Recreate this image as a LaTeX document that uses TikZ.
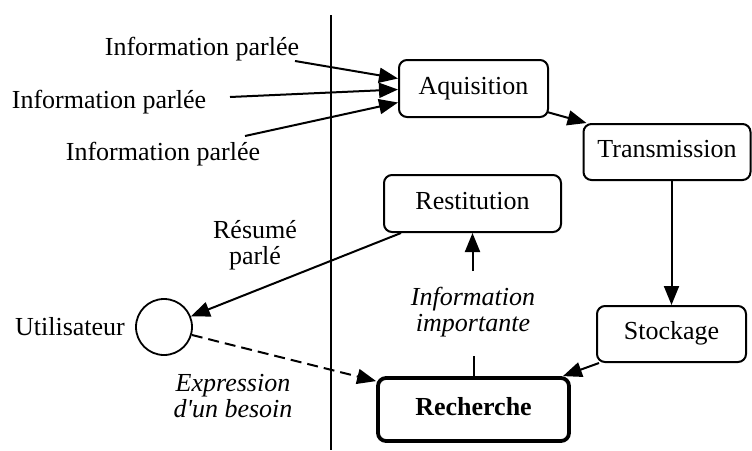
\documentclass[tikz,border=0pt]{standalone}
\usepackage{fontspec}
\setmainfont{Liberation Serif}[Ligatures=TeXOff]
\usetikzlibrary{arrows.meta,calc}
\begin{document}
\begin{tikzpicture}[x=1pt,y=-1pt,
  font=\fontsize{26}{26}\selectfont,
  box/.style={draw, rounded corners=8pt, line width=2pt, inner sep=0pt,
    text height=17pt, text depth=6pt},
  lbl/.style={inner sep=0pt, text height=17pt, text depth=6pt},
  lbl2/.style={inner sep=0pt, align=center, text height=43pt, text depth=6pt},
  conn/.style={line width=2pt},
  arr/.style={conn, -{Triangle[length=19pt,width=15pt]}}
]
\useasboundingbox (0,0) rectangle (752,450);
% separator
\coordinate (vt) at (331,15);
\coordinate (vb) at (331,450);
\draw[line width=1.8pt] (vt) -- (vb);
% boxes
\node[box, minimum width=149pt, minimum height=57pt] (aq) at (473.5,88.5) {Aquisition};
\node[box, minimum width=167pt, minimum height=56pt] (tr) at (667,152) {Transmission};
\node[box, minimum width=177pt, minimum height=57pt] (rs) at (472.5,203.5) {Restitution};
\node[box, minimum width=149pt, minimum height=56pt] (st) at (671.5,334) {Stockage};
\node[box, line width=3.8pt, minimum width=191pt, minimum height=63pt, font=\fontsize{26}{26}\selectfont\bfseries] (re) at (473.5,409.5) {Recherche};
\node[draw, circle, line width=1.8pt, minimum size=56pt, inner sep=0pt] (u) at (164,327) {};
% labels
\node[lbl] (i1) at (202,49.5) {Information parlée};
\node[lbl] (i2) at (109,102.5) {Information parlée};
\node[lbl] (i3) at (163,154.5) {Information parlée};
\node[lbl] (ut) at (70,329.5) {Utilisateur};
\node[lbl2] (rp) at (255,245.5) {Résumé\\parlé};
\node[lbl2, font=\fontsize{26}{26}\selectfont\itshape] (eb) at (233,398.5) {Expression\\d'un besoin};
\node[lbl2, font=\fontsize{26}{26}\selectfont\itshape] (ii) at (473,312.5) {Information\\importante};
% arrow starts
\coordinate (s1) at (295,61);
\coordinate (s2) at (230,97);
\coordinate (s3) at (245,136);
\draw[arr] (s1) -- ([yshift=10pt]aq.west);
\draw[arr] (s2) -- ([yshift=-1pt]aq.west);
\draw[arr] (s3) -- ([yshift=-14pt]aq.west);
\draw[arr] ([xshift=-2pt,yshift=6pt]aq.south east) -- ([xshift=4pt]tr.north west);
\draw[arr] (st.north |- tr.south) -- (st.north);
\draw[arr] ([xshift=3pt]st.south west) -- ([xshift=-8pt]re.north east);
\draw[conn] (re.north) -- ([yshift=20pt]re.north);
\draw[arr] ([yshift=-38pt]rs.south) -- (rs.south);
\draw[arr] ([xshift=18pt]rs.south west) -- (u);
\draw[arr, dash pattern=on 11pt off 6pt] (u.-16) -- ([yshift=-5pt]re.north west);
\end{tikzpicture}
\end{document}
